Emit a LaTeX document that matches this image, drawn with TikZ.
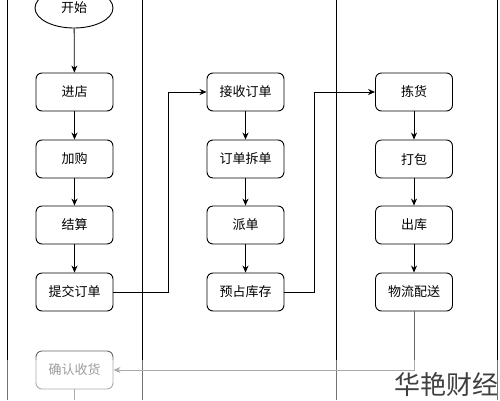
\documentclass[tikz,border=0pt]{standalone}
\usepackage{fontspec}
\setmainfont{Noto Sans CJK SC}
\usetikzlibrary{shapes.geometric,arrows.meta}
\begin{document}
\begin{tikzpicture}[x=1pt,y=-1pt,
  every node/.style={font=\fontsize{13}{15}\selectfont},
  stepbox/.style={draw, rounded corners=6pt, minimum width=77pt, minimum height=38pt, line width=0.9pt, inner sep=0pt},
  greybox/.style={stepbox, draw=black!60, text=black!70},
  flow/.style={line width=0.8pt, -{Stealth[length=7pt,width=6pt]}},
  link/.style={line width=0.8pt},
  lane/.style={line width=0.9pt}]
\useasboundingbox (0,0) rectangle (500,400);
\fill[white] (0,0) rectangle (500,400);
% lanes
\coordinate (l1t) at (7,0);   \coordinate (l1b) at (7,400);
\coordinate (l2t) at (142,0); \coordinate (l2b) at (142,400);
\coordinate (l3t) at (336,0); \coordinate (l3b) at (336,400);
\coordinate (l4t) at (497,0); \coordinate (l4b) at (497,400);
\draw[lane] (l1t) -- (l1b);
\draw[lane] (l2t) -- (l2b);
\draw[lane] (l3t) -- (l3b);
\draw[lane] (l4t) -- (l4b);
% nodes
\node[draw, ellipse, line width=0.9pt, minimum width=78pt, minimum height=40pt, inner sep=0pt] (start) at (74,8) {开始};
\node[stepbox] (a1) at (74.5,92) {进店};
\node[stepbox] (a2) at (74.5,159) {加购};
\node[stepbox] (a3) at (74.5,225) {结算};
\node[stepbox] (a4) at (74.5,292) {提交订单};
\node[greybox] (a5) at (74.5,370) {确认收货};
\node[stepbox] (b1) at (245.5,92) {接收订单};
\node[stepbox] (b2) at (245.5,159) {订单拆单};
\node[stepbox] (b3) at (245.5,225) {派单};
\node[stepbox] (b4) at (245.5,292) {预占库存};
\node[stepbox] (c1) at (414,92) {拣货};
\node[stepbox] (c2) at (414,159) {打包};
\node[stepbox] (c3) at (414,225) {出库};
\node[stepbox] (c4) at (414,292) {物流配送};
% connectors
\draw[flow] (start) -- (a1);
\draw[flow] (a1) -- (a2);
\draw[flow] (a2) -- (a3);
\draw[flow] (a3) -- (a4);
\draw[flow] (b1) -- (b2);
\draw[flow] (b2) -- (b3);
\draw[flow] (b3) -- (b4);
\draw[flow] (c1) -- (c2);
\draw[flow] (c2) -- (c3);
\draw[flow] (c3) -- (c4);
\draw[flow] (a4.east) -- (168,292) -- (168,92) -- (b1.west);
\draw[flow] (b4.east) -- (314,292) -- (314,92) -- (c1.west);
\draw[flow, draw=black!60] (c4.south) -- (414,370) -- (a5.east);
\coordinate (a5end) at (74.5,400);
\draw[link, draw=black!60] (a5.south) -- (a5end);
% fade band
\fill[white, opacity=0.45] (0,360) rectangle (500,400);
\node[text=black!75, font=\fontsize{26}{28}\selectfont, anchor=south east, inner sep=0pt] (wm) at (499,397) {华艳财经};
\end{tikzpicture}
\end{document}
